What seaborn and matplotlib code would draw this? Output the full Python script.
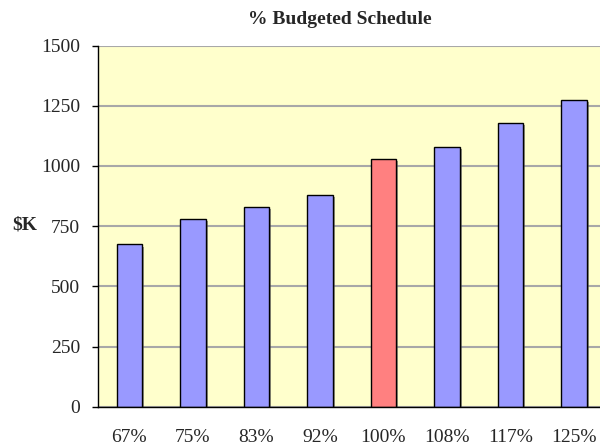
import matplotlib
matplotlib.use("Agg")
import matplotlib.pyplot as plt
import matplotlib.patheffects as pe
import seaborn as sns
import pandas as pd

categories = ["67%", "75%", "83%", "92%", "100%", "108%", "117%", "125%"]
values = [674, 778, 829, 878, 1029, 1080, 1177, 1275]
bar_colors = ["#9999FF", "#9999FF", "#9999FF", "#9999FF", "#FF8080", "#9999FF", "#9999FF", "#9999FF"]
y_ticks = [0, 250, 500, 750, 1000, 1250, 1500]
title = "% Budgeted Schedule"
y_label = "$K"

sns.set_style("white")
plt.rcParams["font.family"] = ["Liberation Serif", "DejaVu Serif"]

df = pd.DataFrame({"cat": categories, "val": values})

fig = plt.figure(figsize=(6, 4.48), dpi=100)
ax = fig.add_axes([0.1627, 0.0922, 0.8467, 0.806])
ax.set_facecolor("#FFFFCC")

sns.barplot(data=df, x="cat", y="val", hue="cat", palette=bar_colors, legend=False,
            width=0.4, saturation=1, edgecolor="black", linewidth=1, ax=ax)
for p in ax.patches:
    p.set_path_effects([pe.SimplePatchShadow(offset=(1.5, -1.5), shadow_rgbFace="#555555", alpha=0.6),
                        pe.Normal()])

ax.set_xlim(-0.5, 7.5)
ax.set_ylim(0, 1500)
ax.set_yticks(y_ticks)
ax.set_yticklabels([str(t) for t in y_ticks], fontsize=14)
ax.yaxis.grid(True, color="#A8A8A8", linewidth=1.5)
ax.set_axisbelow(True)

# category boundaries as major ticks, labels at centers via minor ticks
ax.set_xticks([i - 0.5 for i in range(len(categories) + 1)])
ax.set_xticklabels([""] * (len(categories) + 1))
ax.set_xticks(list(range(len(categories))), minor=True)
ax.set_xticklabels(categories, minor=True, fontsize=14)
ax.tick_params(axis="x", which="major", direction="out", length=4.5, width=1, color="black")
ax.tick_params(axis="x", which="minor", length=0, pad=16)
ax.tick_params(axis="y", direction="out", length=4.5, width=1, color="black", pad=8, left=True)
ax.set_xlabel("")

ax.set_ylabel(y_label, rotation=0, fontsize=14, fontweight="bold", ha="center", va="center")
ax.yaxis.set_label_coords(-0.144, 0.503)

for s in ["top", "right"]:
    ax.spines[s].set_visible(False)
for s in ["left", "bottom"]:
    ax.spines[s].set_color("black")
    ax.spines[s].set_linewidth(1)

fig.text(340 / 600, 1 - 20 / 448, title, ha="center", va="center",
         fontsize=14, fontweight="bold")

fig.savefig("out.png", dpi=100)
